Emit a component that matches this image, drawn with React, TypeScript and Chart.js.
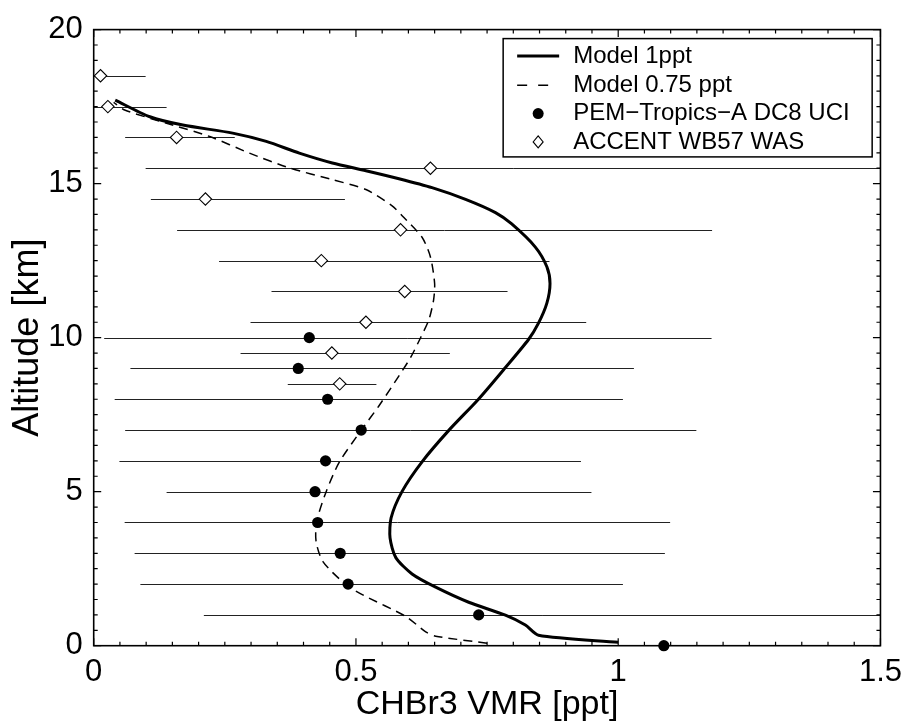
import React, { useEffect, useRef } from 'react';
import { Chart, registerables } from 'chart.js';

Chart.register(...registerables);

const FONT = '"Liberation Sans", Arial, Helvetica, sans-serif';

// PEM-Tropics-A DC8 UCI (filled circles), altitude in km, VMR in ppt
const pemAlt = [0, 1, 2, 3, 4, 5, 6, 7, 8, 9, 10];
const pemVal = [1.087, 0.734, 0.485, 0.470, 0.427, 0.422, 0.442, 0.510, 0.446, 0.390, 0.411];
const pemLo = [null, 0.210, 0.089, 0.078, 0.059, 0.139, 0.049, 0.060, 0.040, 0.070, 0.020];
const pemHi = [null, 1.600, 1.009, 1.089, 1.099, 0.949, 0.929, 1.149, 1.009, 1.030, 1.178];

// ACCENT WB57 WAS (open diamonds)
const accAlt = [18.5, 17.5, 16.5, 15.5, 14.5, 13.5, 12.5, 11.5, 10.5, 9.5, 8.5];
const accVal = [0.013, 0.027, 0.158, 0.642, 0.213, 0.585, 0.434, 0.593, 0.519, 0.454, 0.469];
const accLo = [-0.074, -0.086, 0.060, 0.099, 0.109, 0.159, 0.239, 0.339, 0.299, 0.280, 0.370];
const accHi = [0.099, 0.139, 0.269, 1.600, 0.479, 1.179, 0.869, 0.789, 0.939, 0.679, 0.539];

// Model 1ppt (solid)
const m1Alt = [0.11, 0.34, 0.67, 0.99, 1.41, 1.90, 2.33, 2.86, 3.50, 4.15, 5.01, 5.97, 6.99, 8.01, 9.03, 9.94, 10.47, 11.12, 11.76, 12.30, 12.94, 13.69, 14.06, 14.49, 14.87, 15.16, 15.42, 15.67, 15.99, 16.37, 16.64, 16.90, 17.17, 17.71];
const m1Val = [1.000, 0.848, 0.823, 0.785, 0.715, 0.652, 0.607, 0.576, 0.565, 0.567, 0.588, 0.626, 0.677, 0.734, 0.785, 0.829, 0.848, 0.864, 0.870, 0.864, 0.842, 0.797, 0.766, 0.709, 0.645, 0.582, 0.519, 0.455, 0.392, 0.329, 0.265, 0.170, 0.107, 0.041];

// Model 0.75 ppt (dashed)
const m2Alt = [0.08, 0.31, 0.45, 0.95, 1.63, 1.98, 2.73, 3.38, 4.02, 4.99, 5.95, 7.04, 7.79, 8.76, 9.35, 9.99, 10.58, 11.22, 11.76, 12.62, 13.26, 13.96, 14.28, 14.81, 15.13, 15.51, 15.99, 16.53, 16.96, 17.39, 17.64];
const m2Val = [0.750, 0.652, 0.633, 0.595, 0.515, 0.481, 0.437, 0.424, 0.425, 0.443, 0.468, 0.512, 0.544, 0.582, 0.604, 0.623, 0.639, 0.648, 0.650, 0.642, 0.626, 0.588, 0.569, 0.519, 0.455, 0.373, 0.297, 0.221, 0.139, 0.059, 0.038];

const xTickStep = 0.5;
const yTickStep = 5;

const App: React.FC = () => {
  const canvasRef = useRef<HTMLCanvasElement>(null);
  const chartRef = useRef<Chart | null>(null);

  useEffect(() => {
    if (!canvasRef.current) return;

    // error bars + frame with inward ticks, drawn under the markers
    const underlay = {
      id: 'underlay',
      beforeDatasetsDraw(chart: any) {
        const { ctx, chartArea: a, scales } = chart;
        const x = scales.x;
        const y = scales.y;
        ctx.save();
        ctx.beginPath();
        ctx.rect(a.left, a.top, a.right - a.left, a.bottom - a.top);
        ctx.clip();
        ctx.strokeStyle = '#222';
        ctx.lineWidth = 1;
        const bar = (alt: number, lo: number | null, hi: number | null) => {
          if (lo == null || hi == null) return;
          const py = Math.round(y.getPixelForValue(alt)) + 0.5;
          ctx.beginPath();
          ctx.moveTo(x.getPixelForValue(lo), py);
          ctx.lineTo(x.getPixelForValue(hi), py);
          ctx.stroke();
        };
        pemAlt.forEach((alt, i) => bar(alt, pemLo[i], pemHi[i]));
        accAlt.forEach((alt, i) => bar(alt, accLo[i], accHi[i]));
        ctx.restore();

        ctx.save();
        ctx.strokeStyle = '#000';
        ctx.lineWidth = 1.6;
        ctx.strokeRect(a.left, a.top, a.right - a.left, a.bottom - a.top);
        ctx.lineWidth = 1.2;
        ctx.beginPath();
        for (let v = 0; v <= 1.5001; v += 0.05) {
          const px = x.getPixelForValue(v);
          const major = Math.abs(v / xTickStep - Math.round(v / xTickStep)) < 1e-6;
          const len = major ? 7.5 : 4;
          ctx.moveTo(px, a.bottom);
          ctx.lineTo(px, a.bottom - len);
          ctx.moveTo(px, a.top);
          ctx.lineTo(px, a.top + len);
        }
        for (let v = 0; v <= 20.001; v += 0.5) {
          const py = y.getPixelForValue(v);
          const major = Math.abs(v / yTickStep - Math.round(v / yTickStep)) < 1e-6;
          const len = major ? 7.5 : 4;
          ctx.moveTo(a.left, py);
          ctx.lineTo(a.left + len, py);
          ctx.moveTo(a.right, py);
          ctx.lineTo(a.right - len, py);
        }
        ctx.stroke();
        ctx.restore();
      },
    };

    const legendBox = {
      id: 'legendBox',
      afterDraw(chart: any) {
        const { ctx, chartArea: a } = chart;
        const right = a.right - 8.3;
        const left = right - 369;
        const top = a.top + 9;
        const bottom = top + 118.3;
        ctx.save();
        ctx.fillStyle = '#fff';
        ctx.fillRect(left, top, right - left, bottom - top);
        ctx.strokeStyle = '#000';
        ctx.lineWidth = 1.5;
        ctx.strokeRect(left, top, right - left, bottom - top);

        const rows = [top + 17.3, top + 46.6, top + 75, top + 103.3];
        const sx0 = left + 14;
        const sx1 = left + 56;
        const sc = left + 35;
        const tx = left + 70;

        ctx.lineWidth = 3;
        ctx.beginPath();
        ctx.moveTo(sx0, rows[0]);
        ctx.lineTo(sx1, rows[0]);
        ctx.stroke();

        ctx.lineWidth = 1.5;
        ctx.beginPath();
        ctx.moveTo(sx0, rows[1]);
        ctx.lineTo(sx0 + 10, rows[1]);
        ctx.moveTo(sx0 + 21, rows[1]);
        ctx.lineTo(sx0 + 31, rows[1]);
        ctx.stroke();

        ctx.fillStyle = '#000';
        ctx.beginPath();
        ctx.arc(sc, rows[2], 5.5, 0, Math.PI * 2);
        ctx.fill();

        ctx.lineWidth = 1.1;
        ctx.beginPath();
        ctx.moveTo(sc, rows[3] - 6);
        ctx.lineTo(sc + 5, rows[3]);
        ctx.lineTo(sc, rows[3] + 6);
        ctx.lineTo(sc - 5, rows[3]);
        ctx.closePath();
        ctx.stroke();

        ctx.fillStyle = '#000';
        ctx.font = `24px ${FONT}`;
        ctx.textAlign = 'left';
        ctx.textBaseline = 'middle';
        const labels = ['Model 1ppt', 'Model 0.75 ppt', 'PEM\u2212Tropics\u2212A DC8 UCI', 'ACCENT WB57 WAS'];
        labels.forEach((t, i) => ctx.fillText(t, tx, rows[i]));
        ctx.restore();
      },
    };

    chartRef.current = new Chart(canvasRef.current, {
      type: 'scatter',
      data: {
        datasets: [
          {
            label: 'ACCENT WB57 WAS',
            data: accAlt.map((alt, i) => ({ x: accVal[i], y: alt })),
            pointStyle: 'rectRot',
            pointRadius: 6.2,
            backgroundColor: '#fff',
            borderColor: '#000',
            borderWidth: 1.1,
            showLine: false,
            order: 0,
            clip: false,
          },
          {
            label: 'PEM-Tropics-A DC8 UCI',
            data: pemAlt.map((alt, i) => ({ x: pemVal[i], y: alt })),
            pointStyle: 'circle',
            pointRadius: 5.6,
            backgroundColor: '#000',
            borderColor: '#000',
            borderWidth: 0,
            showLine: false,
            order: 1,
            clip: false,
          },
          {
            label: 'Model 0.75 ppt',
            data: m2Alt.map((alt, i) => ({ x: m2Val[i], y: alt })),
            showLine: true,
            borderColor: '#000',
            borderWidth: 1.5,
            borderDash: [9, 6],
            pointRadius: 0,
            tension: 0.25,
            order: 2,
          },
          {
            label: 'Model 1ppt',
            data: m1Alt.map((alt, i) => ({ x: m1Val[i], y: alt })),
            showLine: true,
            borderColor: '#000',
            borderWidth: 3,
            pointRadius: 0,
            tension: 0.25,
            order: 3,
          },
        ],
      },
      options: {
        responsive: false,
        animation: false,
        events: [],
        layout: { padding: { top: 22.7, right: 26.7, left: 0, bottom: 0 } },
        scales: {
          x: {
            type: 'linear',
            min: 0,
            max: 1.5,
            grid: { display: false, drawTicks: false, tickLength: 0 },
            border: { display: false },
            ticks: {
              stepSize: xTickStep,
              padding: 8,
              color: '#000',
              maxRotation: 0,
              autoSkip: false,
              font: { family: FONT, size: 31 },
              callback: (v: any) => String(Number(v)),
            },
            title: {
              display: true,
              text: 'CHBr3 VMR [ppt]',
              color: '#000',
              font: { family: FONT, size: 34 },
              padding: { top: 0, bottom: 0 },
            },
            afterFit: (s: any) => {
              s.height = 79.3;
            },
          },
          y: {
            type: 'linear',
            min: 0,
            max: 20,
            grid: { display: false, drawTicks: false, tickLength: 0 },
            border: { display: false },
            ticks: {
              stepSize: yTickStep,
              padding: 11,
              color: '#000',
              font: { family: FONT, size: 31 },
            },
            title: {
              display: true,
              text: 'Altitude [km]',
              color: '#000',
              font: { family: FONT, size: 36 },
              padding: { top: 6.4, bottom: 0 },
            },
            afterFit: (s: any) => {
              s.width = 93.7;
            },
          },
        },
        plugins: {
          legend: { display: false },
          tooltip: { enabled: false },
        },
      },
      plugins: [underlay, legendBox],
    } as any);

    return () => {
      if (chartRef.current) chartRef.current.destroy();
      chartRef.current = null;
    };
  }, []);

  return (
    <div style={{ position: 'absolute', left: 0, top: 0, width: 910, height: 725, background: '#fff' }}>
      <canvas ref={canvasRef} width={910} height={725}></canvas>
    </div>
  );
};

export default App;
